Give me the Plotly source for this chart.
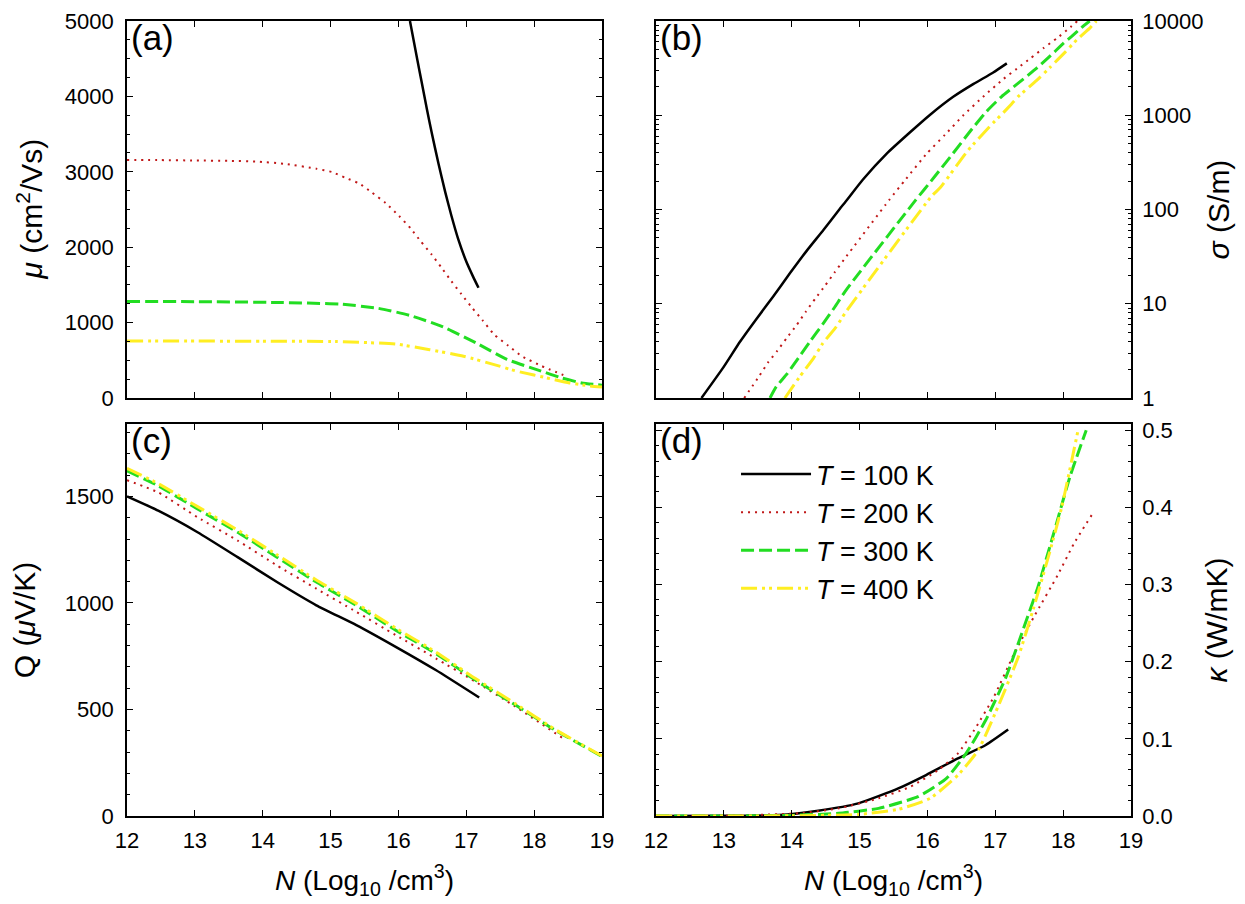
import plotly.graph_objects as go

# temperatures / legend labels
temps = ['100', '200', '300', '400']

# (a) mobility (cm2/Vs) vs N (log10 /cm3)
n_mu_100 = [16.17, 16.28, 16.34, 16.42, 16.49, 16.59, 16.69, 16.78, 16.88, 17.0, 17.10, 17.18]
mu_100 = [5000, 4480, 4200, 3830, 3520, 3110, 2730, 2420, 2110, 1810, 1610, 1462]
n_mu_200 = [12.0, 12.5, 13.0, 13.5, 13.91, 14.32, 14.79, 15.02, 15.21, 15.42, 15.61, 15.81, 16.01, 16.18, 16.33,
            16.49, 16.64, 16.78, 16.93, 17.08, 17.24, 17.41, 17.62, 17.82, 18.11, 18.43]
mu_200 = [3158, 3155, 3150, 3145, 3136, 3106, 3041, 2997, 2924, 2846, 2725, 2587, 2413, 2249, 2076,
          1903, 1722, 1549, 1375, 1203, 1030, 843, 693, 554, 424, 305]
n_mu_300 = [12.0, 13.0, 14.2, 15.14, 15.70, 16.17, 16.66, 17.15, 17.60, 18.06, 18.41, 18.7, 19.0]
mu_300 = [1280, 1278, 1267, 1245, 1190, 1095, 943, 727, 511, 370, 265, 200, 170]
n_mu_400 = [12.0, 13.0, 14.0, 15.09, 15.97, 16.46, 16.96, 17.45, 17.64, 17.82, 18.17, 18.52, 18.82, 19.0]
mu_400 = [757, 755, 752, 749, 714, 641, 554, 433, 381, 340, 270, 200, 160, 145]

# (b) conductivity (S/m)
n_sig_100 = [12.67, 12.99, 13.24, 13.48, 13.73, 13.97, 14.22, 14.47, 14.71, 14.79, 15.05, 15.40, 15.74,
             16.04, 16.38, 16.68, 16.97, 17.17]
sig_100 = [1, 2.10, 3.97, 6.90, 12.0, 20.9, 36.4, 61, 102, 120, 208, 392, 656, 1014, 1570, 2153, 2844, 3548]
n_sig_200 = [13.30, 13.51, 13.65, 13.79, 13.93, 14.07, 14.21, 14.35, 14.49, 14.63, 14.77, 15.44, 15.67, 15.99,
             16.26, 16.53, 16.82, 17.12, 17.32, 17.52, 17.71, 17.91, 18.11, 18.21]
sig_200 = [1, 1.66, 2.37, 3.18, 4.37, 5.90, 8.28, 11.4, 15.5, 21.4, 29.4, 127, 205, 392,
           622, 1000, 1570, 2427, 3126, 4027, 5152, 6577, 8610, 10000]
n_sig_300 = [13.68, 13.77, 13.93, 14.10, 14.27, 14.46, 14.63, 14.79, 15.82, 16.11, 16.36, 16.63, 16.87,
             17.09, 17.32, 17.61, 17.81, 18.0, 18.13, 18.27, 18.39]
sig_300 = [1, 1.31, 1.80, 2.67, 3.97, 6.12, 9.12, 13.6, 124, 225, 380, 676, 1096,
           1570, 2138, 3162, 4266, 5754, 6918, 8511, 10000]
n_sig_400 = [13.90, 14.12, 14.32, 14.46, 14.66, 14.80, 16.06, 16.19, 16.60, 16.97, 17.09, 17.24, 17.34,
             17.61, 17.81, 18.03, 18.20, 18.40, 18.49]
sig_400 = [1, 1.69, 2.63, 3.81, 5.75, 8.22, 138, 171, 425, 832, 1014, 1318, 1585,
           2344, 3236, 4677, 6310, 8511, 10000]

# (c) Seebeck coefficient (uV/K)
n_q_100 = [12.0, 12.46, 13.04, 13.63, 14.21, 14.79, 15.38, 15.96, 16.55, 17.19]
q_100 = [1500, 1433, 1332, 1215, 1098, 989, 896, 794, 685, 556]
n_q_200 = [12.0, 12.46, 13.04, 13.63, 14.21, 14.79, 15.38, 15.96, 16.55, 17.13, 17.72, 18.42]
q_200 = [1576, 1519, 1402, 1293, 1176, 1067, 958, 849, 740, 631, 514, 366]
n_q_300 = [12.0, 12.46, 13.04, 13.63, 14.21, 14.79, 15.38, 15.96, 16.55, 17.13, 17.72, 18.3, 19.0]
q_300 = [1620, 1550, 1441, 1332, 1215, 1098, 989, 872, 763, 639, 522, 405, 280]
n_q_400 = [12.0, 12.46, 13.04, 13.63, 14.21, 14.79, 15.38, 15.96, 16.55, 17.13, 17.72, 18.3, 19.0]
q_400 = [1632, 1560, 1452, 1342, 1226, 1108, 998, 882, 770, 646, 528, 408, 282]

# (d) thermal conductivity (W/mK)
n_k_100 = [12.0, 13.0, 13.81, 14.39, 14.98, 15.57, 15.98, 16.45, 16.86, 17.19]
k_100 = [0, 0.0002, 0.0013, 0.0069, 0.0164, 0.0358, 0.0531, 0.0747, 0.092, 0.112]
n_k_200 = [12.0, 13.0, 14.1, 14.69, 15.28, 15.75, 16.16, 16.45, 16.69, 16.98, 17.28, 17.57, 17.92, 18.16, 18.42]
k_200 = [0, 0.0003, 0.0035, 0.0099, 0.0229, 0.038, 0.0596, 0.0812, 0.1114, 0.1546, 0.2107, 0.2582, 0.3122, 0.3532, 0.3899]
n_k_300 = [12.0, 13.0, 14.0, 14.69, 15.28, 15.86, 16.28, 16.57, 16.86, 17.16, 17.39, 17.63, 17.86, 18.1, 18.34]
k_300 = [0, 0, 0.0008, 0.0035, 0.0099, 0.025, 0.0488, 0.0812, 0.1244, 0.1805, 0.2366, 0.2971, 0.3661, 0.4396, 0.5]
n_k_400 = [12.0, 13.0, 14.0, 14.98, 15.57, 16.04, 16.45, 16.75, 17.04, 17.34, 17.57, 17.81, 17.98, 18.22]
k_400 = [0, 0, 0.0003, 0.002, 0.0086, 0.0229, 0.0531, 0.0855, 0.1416, 0.2064, 0.2712, 0.3446, 0.4007, 0.5]

# log axis tick labels for (b)
sig_tickvals = [1, 10, 100, 1000, 10000]
sig_ticktext = ['1', '10', '100', '1000', '10000']

#line style per temperature
styles = [
    dict(color='black', width=2.5, dash='solid'),
    dict(color='#c01818', width=2, dash='2px,5px'),
    dict(color='#22dd22', width=3, dash='13px,5px'),
    dict(color='#ffee22', width=3, dash='16px,5px,3px,4px,3px,5px'),
]

panels = [
    ('x', 'y', [(n_mu_100, mu_100), (n_mu_200, mu_200), (n_mu_300, mu_300), (n_mu_400, mu_400)]),
    ('x2', 'y2', [(n_sig_100, sig_100), (n_sig_200, sig_200), (n_sig_300, sig_300), (n_sig_400, sig_400)]),
    ('x3', 'y3', [(n_q_100, q_100), (n_q_200, q_200), (n_q_300, q_300), (n_q_400, q_400)]),
    ('x4', 'y4', [(n_k_100, k_100), (n_k_200, k_200), (n_k_300, k_300), (n_k_400, k_400)]),
]

fig = go.Figure()
for xa, ya, series in panels:
    for t, (xs, ys), st in zip(temps, series, styles):
        fig.add_trace(go.Scatter(
            x=xs, y=ys, xaxis=xa, yaxis=ya, mode='lines',
            line=dict(color=st['color'], width=st['width'], dash=st['dash'], shape='spline', smoothing=0.5),
            name='<i>T</i> = ' + t + ' K', legendgroup=t, showlegend=(xa == 'x4')))

FONT = 'Liberation Sans, Arial, sans-serif'
tickfont = dict(family=FONT, size=22, color='black')
titlefont = dict(family=FONT, size=30, color='black')


def frame(**kw):
    d = dict(showline=True, linecolor='black', linewidth=1.6, mirror='ticks',
             ticks='inside', ticklen=6, tickwidth=1.2, tickcolor='black',
             showgrid=False, zeroline=False, tickfont=tickfont, automargin=False,
             ticklabeloverflow='allow')
    d.update(kw)
    return d


def xframe(dom, anchor, labels):
    d = frame(domain=dom, anchor=anchor, range=[12, 19], dtick=1, tick0=12, showticklabels=labels)
    if labels:
        d['ticklabelstandoff'] = 4
        d['title'] = dict(text='<i>N</i> (Log<sub>10</sub> /cm<sup>3</sup>)',
                          font=dict(family=FONT, size=28, color='black'), standoff=18)
    return d


xdom_l = [0, 0.4731]
xdom_r = [0.5269, 1.0]
ydom_t = [0.5258, 1.0]
ydom_b = [0, 0.4931]

fig.update_layout(
    width=1245, height=904,
    margin=dict(l=119, r=122, t=13, b=96),
    plot_bgcolor='white', paper_bgcolor='white',
    font=dict(family=FONT, color='black'),
    xaxis=xframe(xdom_l, 'y', False),
    yaxis=frame(domain=ydom_t, anchor='x', range=[0, 5000], dtick=1000, ticklabelstandoff=7,
                minor=dict(ticks='inside', ticklen=3, dtick=250, tickcolor='black')),
    xaxis2=xframe(xdom_r, 'y2', False),
    yaxis2=frame(domain=ydom_t, anchor='x2', type='log', range=[0, 4], side='right',
                 tickvals=sig_tickvals, ticktext=sig_ticktext, ticklabelstandoff=5,
                 minor=dict(ticks='inside', ticklen=3, tickcolor='black',
                            tickvals=[k * 10 ** d for d in range(4) for k in range(2, 10)]),
                 title=dict(text='<i>σ</i> (S/m)', font=titlefont, standoff=6)),
    xaxis3=xframe(xdom_l, 'y3', True),
    yaxis3=frame(domain=ydom_b, anchor='x3', range=[0, 1840], dtick=500, ticklabelstandoff=7,
                 minor=dict(ticks='inside', ticklen=3, dtick=100, tickcolor='black'),
                 title=dict(text='Q (<i>μ</i>V/K)', font=titlefont, standoff=20)),
    xaxis4=xframe(xdom_r, 'y4', True),
    yaxis4=frame(domain=ydom_b, anchor='x4', range=[0, 0.508], dtick=0.1, tickformat='.1f', side='right',
                 ticklabelstandoff=5,
                 minor=dict(ticks='inside', ticklen=3, dtick=0.02, tickcolor='black'),
                 title=dict(text='<i>κ</i> (W/mK)', font=titlefont, standoff=34)),
    legend=dict(x=0.6066, y=0.4604, xanchor='left', yanchor='top', bgcolor='rgba(0,0,0,0)',
                font=dict(family=FONT, size=27, color='black'), tracegroupgap=0, itemwidth=70),
)

# mobility axis title as a rotated annotation (superscript shifts the axis title)
fig.add_annotation(text='<i>μ</i> (cm<sup>2</sup>/Vs)', xref='paper', yref='y domain', x=-0.0966, y=0.5,
                   xanchor='center', yanchor='middle', textangle=-90, showarrow=False, font=titlefont)

for lab, xa, ya in [('(a)', 'x', 'y'), ('(b)', 'x2', 'y2'), ('(c)', 'x3', 'y3'), ('(d)', 'x4', 'y4')]:
    fig.add_annotation(text=lab, xref=xa + ' domain', yref=ya + ' domain', x=0.005, y=1.0, yshift=5,
                       xanchor='left', yanchor='top', showarrow=False,
                       font=dict(family=FONT, size=35, color='black'))

fig.write_html("out.html")
